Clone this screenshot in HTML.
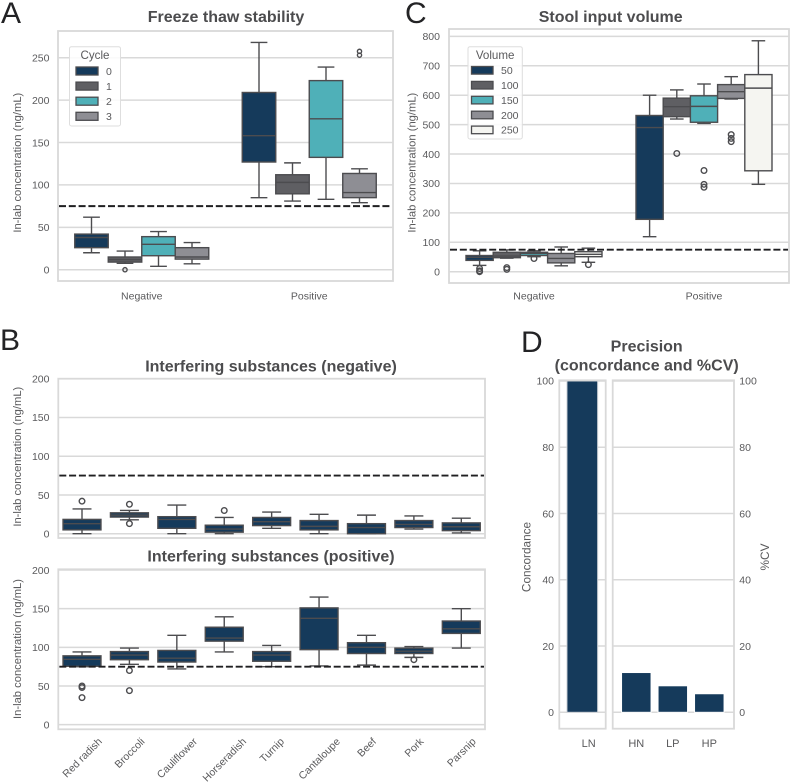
<!DOCTYPE html>
<html lang="en">
<head>
<meta charset="utf-8">
<title>Assay performance figure</title>
<style>
  html, body { margin: 0; padding: 0; background: #fff; }
  svg { display: block; font-family: "Liberation Sans", sans-serif; filter: blur(0.35px); }
  .letter { font-size: 30px; fill: #232325; }
  .title { font-size: 16px; font-weight: bold; fill: #4c4c4e; text-anchor: middle; }
  .tick { font-size: 10.5px; fill: #5a5a5c; }
  .legend-title { font-size: 11.6px; fill: #5a5a5c; }
  .ylab { font-size: 11.2px; fill: #5a5a5c; text-anchor: middle; }
  .ylab-big { font-size: 11.8px; fill: #5a5a5c; text-anchor: middle; }
</style>
</head>
<body>
<svg id="figure" width="791" height="784" viewBox="0 0 791 784" xmlns="http://www.w3.org/2000/svg">
  <rect width="791" height="784" fill="#fff"/>
  <text class="letter" x="1" y="23">A</text>
  <text class="letter" x="0" y="350">B</text>
  <text class="letter" x="405" y="23">C</text>
  <text class="letter" x="521" y="352">D</text>
  <text class="title" x="226" y="22">Freeze thaw stability</text>
  <text class="title" x="610.7" y="22">Stool input volume</text>
  <text class="title" x="271" y="371.5">Interfering substances (negative)</text>
  <text class="title" x="271" y="561.5">Interfering substances (positive)</text>
  <text class="title" x="646.7" y="351.5">Precision</text>
  <text class="title" x="646.7" y="370.5">(concordance and %CV)</text>
  <text class="ylab" transform="translate(21 162.7) rotate(-90)">In-lab concentration (ng/mL)</text>
  <text class="ylab" transform="translate(415.5 162.7) rotate(-90)">In-lab concentration (ng/mL)</text>
  <text class="ylab" transform="translate(21 456.7) rotate(-90)">In-lab concentration (ng/mL)</text>
  <text class="ylab" transform="translate(21 649) rotate(-90)">In-lab concentration (ng/mL)</text>
  <text class="ylab-big" transform="translate(530.5 557) rotate(-90)">Concordance</text>
  <text class="ylab-big" transform="translate(769 557) rotate(-90)">%CV</text>
</svg>
<script>
/* ---------- Panel A: freeze thaw (rows = category, columns = cycle) ---------- */
const freezeCategories = ['Negative', 'Positive'];
const freezeCycles = ['0', '1', '2', '3'];
const freezeTicks = [0, 50, 100, 150, 200, 250];
const freezeLow = [[20, 7.5, 4, 7], [85, 81, 83, 79]];
const freezeQ1 = [[26, 9, 16.5, 12.5], [127, 89.5, 132.5, 85]];
const freezeMedian = [[38, 12, 30, 15], [158, 103, 178, 91]];
const freezeQ3 = [[42, 15, 39, 26], [209, 112, 223, 113.5]];
const freezeHigh = [[62, 22, 45, 32], [268, 126, 239, 119]];
const freezeOutliers = [[[], [0], [], []], [[], [], [], [257.5, 253]]];

/* ---------- Panel C: stool input volume ---------- */
const stoolCategories = ['Negative', 'Positive'];
const stoolVolumes = ['50', '100', '150', '200', '250'];
const stoolTicks = [0, 100, 200, 300, 400, 500, 600, 700, 800];
const stoolLow = [[21.5, 46, 51, 20, 32], [119, 519, 504, 587, 297]];
const stoolQ1 = [[38.5, 47.6, 55, 30, 51], [178, 527, 508, 589, 343]];
const stoolMedian = [[49, 53, 62, 45, 59], [490, 561, 562, 612, 624]];
const stoolQ3 = [[55, 66, 66, 62, 68], [531, 590, 598, 636, 670]];
const stoolHigh = [[71, 74, 71, 84, 80], [600, 618, 638, 663, 785]];
const stoolOutliers = [
  [[11, 3, 0], [14, 8], [45], [], [24]],
  [[], [402], [344, 297, 287], [466, 453, 442], []]
];

/* ---------- Panel B: interfering substances ---------- */
const substances = ['Red radish', 'Broccoli', 'Cauliflower', 'Horseradish', 'Turnip', 'Cantaloupe', 'Beef', 'Pork', 'Parsnip'];
const interferingTicks = [0, 50, 100, 150, 200];
const negLow = [0, 18, 0, 0, 7, 0, 0, 6, 1];
const negQ1 = [5, 21.5, 7, 2, 10.5, 5, 0, 8, 4];
const negMedian = [13, 24, 18.5, 6, 15.5, 9.5, 8, 12, 9];
const negQ3 = [18.5, 27, 22, 11, 21, 17, 13, 17, 14];
const negHigh = [32, 30, 37, 21, 28, 25, 24, 23, 20];
const negOutliers = [[42], [38, 13], [], [30], [], [], [], [], []];
const posLow = [75, 78, 72, 94, 75, 76, 77, 87, 99];
const posQ1 = [75.5, 84, 81, 108, 82, 97, 92, 92, 118];
const posMedian = [84.5, 90, 86, 112, 90, 137.5, 100, 95, 124];
const posQ3 = [89, 94.5, 96, 126, 94.5, 151, 106, 99, 134];
const posHigh = [94, 99, 115.5, 139.5, 102.5, 165, 115.5, 101, 150];
const posOutliers = [[50, 48, 35], [70, 44], [], [], [], [], [], [84], []];

/* ---------- Panel D: precision ---------- */
const concordanceLabels = ['LN'];
const concordanceValues = [100];
const cvLabels = ['HN', 'LP', 'HP'];
const cvValues = [12, 8, 5.6];
const precisionTicks = [0, 20, 40, 60, 80, 100];

const thresholdValue = [75];
const huePalette = ['#153a5b', '#5f5f63', '#4fb0b8', '#8e8e94', '#f5f5f1'];

const NS = 'http://www.w3.org/2000/svg';
const LINE = '#4c4c4f';
const GRID = '#d9d9d9';
const figure = document.getElementById('figure');

function make(tag, attrs, parent) {
  const node = document.createElementNS(NS, tag);
  for (const key in attrs) node.setAttribute(key, attrs[key]);
  (parent || figure).appendChild(node);
  return node;
}
function yScale(domain, range) {
  return function (v) {
    return range[0] + (v - domain[0]) * (range[1] - range[0]) / (domain[1] - domain[0]);
  };
}
function bandScale(count, left, right) {
  const step = (right - left) / count;
  return { step: step, center: function (i) { return left + step * (i + 0.5); } };
}
function drawFrame(f) {
  const el = make('rect', { x: f.left, y: f.top, width: f.right - f.left, height: f.bottom - f.top, fill: 'none', stroke: GRID, 'stroke-width': 1.8 });
  
  
}
function drawGrid(f, y, ticks, labelX, anchor) {
  ticks.forEach(function (t) {
    const el = make('line', { x1: f.left, x2: f.right, y1: y(t), y2: y(t), stroke: GRID, 'stroke-width': 1.5 });
    
    
    if (labelX !== null) {
      const label = make('text', { x: labelX, y: y(t), dy: '0.36em', 'text-anchor': anchor, class: 'tick' });
      
      
      label.textContent = t;
    }
  });
}
function drawThreshold(f, y) {
  const el = make('line', { x1: f.left + 1, x2: f.right - 1, y1: y(thresholdValue[0]), y2: y(thresholdValue[0]), stroke: '#1f1f21', 'stroke-width': 1.9, 'stroke-dasharray': '7 2.8' });
  
  
}
function drawBox(cx, w, y, s, color, r) {
  const g = make('g', {});
  
  
  const stem1 = make('line', { x1: cx, x2: cx, y1: y(s.high), y2: y(s.q3), stroke: LINE, 'stroke-width': 1.4 }, g);
  
  
  const stem2 = make('line', { x1: cx, x2: cx, y1: y(s.q1), y2: y(s.low), stroke: LINE, 'stroke-width': 1.4 }, g);
  
  
  const cap1 = make('line', { x1: cx - w / 4, x2: cx + w / 4, y1: y(s.high), y2: y(s.high), stroke: LINE, 'stroke-width': 1.4 }, g);
  
  
  const cap2 = make('line', { x1: cx - w / 4, x2: cx + w / 4, y1: y(s.low), y2: y(s.low), stroke: LINE, 'stroke-width': 1.4 }, g);
  
  
  const body = make('rect', { x: cx - w / 2, y: y(s.q3), width: w, height: y(s.q1) - y(s.q3), fill: color, stroke: LINE, 'stroke-width': 1.4 }, g);
  
  
  const med = make('line', { x1: cx - w / 2, x2: cx + w / 2, y1: y(s.median), y2: y(s.median), stroke: LINE, 'stroke-width': 1.4 }, g);
  
  
  s.outliers.forEach(function (v) {
    const dot = make('circle', { cx: cx, cy: y(v), r: r, fill: 'none', stroke: LINE, 'stroke-width': 1.4 }, g);
    
    
  });
}
function drawCategoryLabels(f, band, labels, yPos) {
  labels.forEach(function (c, i) {
    const el = make('text', { x: band.center(i), y: yPos, 'text-anchor': 'middle', class: 'tick' });
    
    
    el.textContent = c;
  });
}
function drawLegend(box, title, labels, layout) {
  const g = make('g', {});
  
  
  const bg = make('rect', { x: box.x, y: box.y, width: box.w, height: box.h, rx: 2, fill: '#fff', 'fill-opacity': 0.85, stroke: '#dedede', 'stroke-width': 1 }, g);
  
  
  const t = make('text', { x: box.x + box.w / 2, y: box.y + 12.5, 'text-anchor': 'middle', class: 'legend-title' }, g);
  
  
  t.textContent = title;
  labels.forEach(function (lab, i) {
    const top = layout.y + i * layout.gap;
    const patch = make('rect', { x: layout.x, y: top, width: layout.w, height: layout.h, fill: huePalette[i], stroke: LINE, 'stroke-width': 1.3 }, g);
    
    
    const text = make('text', { x: layout.labelX, y: top + layout.h / 2, dy: '0.36em', class: 'tick' }, g);
    
    
    text.textContent = lab;
  });
}
function drawHueBoxes(f, y, cats, hues, st, r) {
  const band = bandScale(cats.length, f.left, f.right);
  const w = band.step * 0.8 / hues.length;
  cats.forEach(function (c, i) {
    hues.forEach(function (h, j) {
      const cx = band.center(i) + (j - (hues.length - 1) / 2) * w;
      drawBox(cx, w, y, {
        low: st.low[i][j], q1: st.q1[i][j], median: st.median[i][j],
        q3: st.q3[i][j], high: st.high[i][j], outliers: st.outliers[i][j]
      }, huePalette[j], r);
    });
  });
  return band;
}
function drawSingleBoxes(f, y, cats, st) {
  const band = bandScale(cats.length, f.left, f.right);
  cats.forEach(function (c, i) {
    drawBox(band.center(i), band.step * 0.8, y, {
      low: st.low[i], q1: st.q1[i], median: st.median[i],
      q3: st.q3[i], high: st.high[i], outliers: st.outliers[i]
    }, huePalette[0], 2.8);
  });
  return band;
}

/* Panel A */
(function () {
  const f = { left: 58, right: 393, top: 31, bottom: 281 };
  const y = yScale([-13.3, 281.5], [281, 31]);
  drawGrid(f, y, freezeTicks, 49.5, 'end');
  const band = drawHueBoxes(f, y, freezeCategories, freezeCycles, { low: freezeLow, q1: freezeQ1, median: freezeMedian, q3: freezeQ3, high: freezeHigh, outliers: freezeOutliers }, 2.1);
  drawThreshold(f, y);
  drawFrame(f);
  drawCategoryLabels(f, band, freezeCategories, 299.5);
  drawLegend({ x: 69.5, y: 46.7, w: 51, h: 79.3 }, 'Cycle', freezeCycles, { x: 76, y: 67, w: 22, h: 8, gap: 15.1, labelX: 106 });
})();

/* Panel C */
(function () {
  const f = { left: 449, right: 789, top: 29, bottom: 283 };
  const y = yScale([-38.4, 825], [283, 29]);
  drawGrid(f, y, stoolTicks, 440, 'end');
  const band = drawHueBoxes(f, y, stoolCategories, stoolVolumes, { low: stoolLow, q1: stoolQ1, median: stoolMedian, q3: stoolQ3, high: stoolHigh, outliers: stoolOutliers }, 2.8);
  drawThreshold(f, y);
  drawFrame(f);
  drawCategoryLabels(f, band, stoolCategories, 299.5);
  drawLegend({ x: 468, y: 46.7, w: 54.3, h: 92.3 }, 'Volume', stoolVolumes, { x: 471.5, y: 66.5, w: 21.5, h: 7.6, gap: 14.9, labelX: 501 });
})();

/* Panel B negative */
(function () {
  const f = { left: 58.3, right: 485, top: 378.7, bottom: 538 };
  const y = yScale([-5.5, 200], [538, 378.7]);
  drawGrid(f, y, interferingTicks, 49.5, 'end');
  drawSingleBoxes(f, y, substances, { low: negLow, q1: negQ1, median: negMedian, q3: negQ3, high: negHigh, outliers: negOutliers });
  drawThreshold(f, y);
  drawFrame(f);
})();

/* Panel B positive */
(function () {
  const f = { left: 58.3, right: 485, top: 569.3, bottom: 729.3 };
  const y = yScale([-6, 200.9], [729.3, 569.3]);
  drawGrid(f, y, interferingTicks, 49.5, 'end');
  const band = drawSingleBoxes(f, y, substances, { low: posLow, q1: posQ1, median: posMedian, q3: posQ3, high: posHigh, outliers: posOutliers });
  drawThreshold(f, y);
  drawFrame(f);
  substances.forEach(function (name, i) {
    const el = make('text', { 'text-anchor': 'middle', class: 'tick', x: 0, y: 0 });
    
    
    el.textContent = name;
    const len = el.getComputedTextLength();
    const cy = 738 + (len * 0.7071) / 2 + 1.5;
    el.setAttribute('transform', 'translate(' + band.center(i) + ' ' + cy + ') rotate(-45)');
    el.setAttribute('dy', '0.36em');
  });
})();

/* Panel D */
(function () {
  const domain = [-4.95, 100.2];
  const range = [728.7, 380.3];
  const y = yScale(domain, range);
  const fl = { left: 559.3, right: 605.7, top: 380.3, bottom: 728.7 };
  const fr = { left: 612.7, right: 734, top: 380.3, bottom: 728.7 };
  drawGrid(fl, y, precisionTicks, 554, 'end');
  drawGrid(fr, y, precisionTicks, 739.3, 'start');

  function drawBars(labels, values, centerX, barW, stroke) {
    labels.forEach(function (lab, i) {
      const bar = make('rect', { x: centerX(i) - barW / 2, y: y(values[i]), width: barW, height: y(0) - y(values[i]), fill: huePalette[0], stroke: stroke, 'stroke-width': 1 });
      
      
    });
  }
  function drawBarLabels(labels, labelX) {
    labels.forEach(function (lab, i) {
      const text = make('text', { x: labelX(i), y: 747, 'text-anchor': 'middle', class: 'tick', style: 'font-size:11px' });
      
      
      text.textContent = lab;
    });
  }
  drawBars(concordanceLabels, concordanceValues, function () { return 582.3; }, 30.7, '#cfd3d8');
  drawBarLabels(concordanceLabels, function () { return 588.7; });
  const cvCenter = function (i) { return 636.3 + i * 36.5; };
  drawBars(cvLabels, cvValues, cvCenter, 29.5, '#fff');
  drawBarLabels(cvLabels, cvCenter);
  drawFrame(fl);
  drawFrame(fr);
})();
</script>
</body>
</html>
